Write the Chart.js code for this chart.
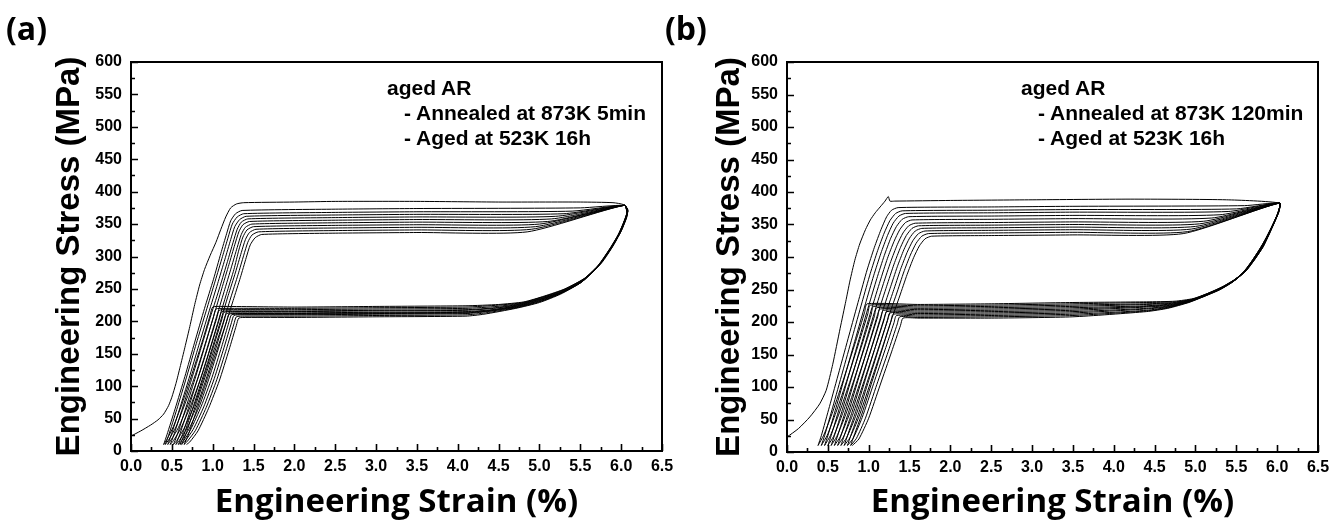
<!DOCTYPE html>
<html><head><meta charset="utf-8">
<script src="https://cdn.jsdelivr.net/npm/chart.js@4.4.1/dist/chart.umd.min.js"></script>
<style>
html,body{margin:0;padding:0;background:#fff;}
body{width:1341px;height:522px;overflow:hidden;position:relative;}
#ca{position:absolute;left:0;top:0;}
#cb{position:absolute;left:670px;top:0;}
.lab{position:absolute;font-family:"Open Sans","Noto Sans",sans-serif;font-weight:700;font-size:32px;line-height:32px;color:#000;}
.note{position:absolute;font-family:"Liberation Sans",Arial,sans-serif;font-weight:700;font-size:21px;line-height:21px;color:#000;white-space:nowrap;}
</style>
</head><body>
<canvas id="ca" width="680" height="522"></canvas>
<canvas id="cb" width="671" height="522"></canvas>
<div class="lab" style="left:6px;top:12px;">(a)</div>
<div class="lab" style="left:665px;top:12px;">(b)</div>
<div class="note" style="left:387px;top:77px;">aged AR</div>
<div class="note" style="left:404px;top:102px;">- Annealed at 873K 5min</div>
<div class="note" style="left:404px;top:127px;">- Aged at 523K 16h</div>
<div class="note" style="left:1021px;top:77px;">aged AR</div>
<div class="note" style="left:1038px;top:102px;">- Annealed at 873K 120min</div>
<div class="note" style="left:1038px;top:127px;">- Aged at 523K 16h</div>
<script>
// ---- axis ticks / titles ----
const xTickValues = [0,0.5,1,1.5,2,2.5,3,3.5,4,4.5,5,5.5,6,6.5];
const yTickValues = [0,50,100,150,200,250,300,350,400,450,500,550,600];
const xTitle = 'Engineering Strain (%)';
const yTitle = 'Engineering Stress (MPa)';

// ---- panel (a): Annealed at 873K 5min, cycles [strain %, stress MPa] ----
const a0 = [[0,23],[0.12,31],[0.24,40],[0.33,48],[0.40,57],[0.46,70],[0.50,83],[0.55,104],[0.60,129],[0.66,160],[0.72,192],[0.78,226],[0.84,256],[0.90,280],[0.97,302],[1.04,322],[1.10,342],[1.16,361],[1.22,375],[1.29,381],[1.38,383],[2.0,384],[2.5,385],[3.5,385],[4.5,384],[5.5,384],[5.9,383],[6.03,380],
 [6.08,373],[6.07,361],[6.01,342],[5.91,318],[5.76,290],[5.56,267],[5.31,250],[5.06,239],[4.81,230],[4.50,226],[4.10,224],[3.0,223],[2.0,222],[1.10,223],[1.00,222],
 [0.97,210],[0.88,172],[0.76,124],[0.64,78],[0.52,38],[0.44,18],[0.40,10]];
const a1 = [[0.40,10],[0.44,25],[0.54,65],[0.66,115],[0.78,168],[0.90,220],[1.01,265],[1.10,305],[1.17,335],[1.22,355],[1.28,366],[1.36,371],[2.5,373],[3.5,374],[5.5,375],[6.04,379],
 [6.08,372],[6.06,360],[6.00,340],[5.90,317],[5.75,290],[5.55,266],[5.30,249],[5.05,238],[4.80,229],[4.50,225],[4.10,222],[3.0,221],[2.0,220],[1.14,220],[1.04,219],
 [1.01,207],[0.92,170],[0.80,122],[0.67,76],[0.55,37],[0.46,17],[0.42,10]];
const a2 = [[0.42,10],[0.46,24],[0.56,64],[0.68,114],[0.80,166],[0.92,216],[1.03,262],[1.12,300],[1.19,330],[1.24,350],[1.30,361],[1.38,366],[2.5,368],[3.5,369],[5.4,370],[6.04,379],
 [6.08,371],[6.06,359],[6.00,339],[5.89,316],[5.74,289],[5.54,265],[5.29,248],[5.04,237],[4.79,228],[4.48,223],[4.10,220],[3.0,219],[2.0,218],[1.18,218],[1.08,217],
 [1.05,205],[0.96,168],[0.84,120],[0.71,75],[0.58,36],[0.49,17],[0.45,10]];
const a3 = [[0.45,10],[0.49,24],[0.59,63],[0.71,112],[0.83,163],[0.95,213],[1.06,258],[1.15,296],[1.22,326],[1.27,346],[1.33,357],[1.41,362],[2.5,364],[3.5,365],[5.3,366],[6.04,379],
 [6.08,371],[6.06,358],[5.99,338],[5.89,315],[5.74,288],[5.54,264],[5.29,247],[5.04,236],[4.78,227],[4.46,221],[4.10,218],[3.0,217],[2.0,216],[1.21,216],[1.11,215],
 [1.08,203],[0.99,166],[0.87,118],[0.74,73],[0.61,35],[0.52,16],[0.48,10]];
const a4 = [[0.48,10],[0.52,23],[0.62,62],[0.74,110],[0.86,160],[0.98,210],[1.09,254],[1.18,292],[1.25,322],[1.30,342],[1.35,353],[1.43,358],[2.5,360],[3.5,361],[5.2,362],[6.04,379],
 [6.08,370],[6.05,358],[5.99,337],[5.88,314],[5.73,287],[5.53,263],[5.28,246],[5.03,235],[4.77,226],[4.44,220],[4.10,217],[3.0,216],[2.0,215],[1.24,215],[1.14,214],
 [1.11,202],[1.02,165],[0.90,117],[0.78,72],[0.65,35],[0.56,16],[0.52,10]];
const a5 = [[0.52,10],[0.56,23],[0.66,62],[0.78,110],[0.90,160],[1.01,207],[1.11,250],[1.20,288],[1.27,318],[1.32,338],[1.37,349],[1.45,354],[2.5,356],[3.5,357],[5.15,358],[6.04,379],
 [6.08,370],[6.05,357],[5.98,337],[5.88,313],[5.73,286],[5.53,262],[5.28,245],[5.02,234],[4.76,225],[4.42,218],[4.10,215],[3.0,214],[2.0,213],[1.27,213],[1.17,212],
 [1.14,201],[1.05,163],[0.93,115],[0.81,71],[0.68,34],[0.59,16],[0.55,10]];
const a6 = [[0.55,10],[0.59,23],[0.69,61],[0.81,109],[0.93,158],[1.04,204],[1.14,246],[1.23,284],[1.30,314],[1.35,334],[1.40,345],[1.48,350],[2.5,352],[3.5,353],[5.1,354],[6.04,379],
 [6.08,369],[6.05,357],[5.98,336],[5.87,313],[5.72,286],[5.52,262],[5.27,245],[5.02,233],[4.75,224],[4.40,217],[4.10,214],[3.0,213],[2.0,212],[1.30,212],[1.20,211],
 [1.17,200],[1.08,162],[0.96,114],[0.84,70],[0.71,34],[0.62,16],[0.58,10]];
const a7 = [[0.58,10],[0.62,22],[0.72,60],[0.84,107],[0.96,155],[1.07,201],[1.17,243],[1.26,280],[1.32,310],[1.37,330],[1.42,341],[1.50,346],[2.5,348],[3.5,349],[5.0,350],[6.04,379],
 [6.07,369],[6.05,356],[5.98,336],[5.87,312],[5.72,285],[5.52,261],[5.27,244],[5.01,232],[4.74,223],[4.38,216],[4.10,213],[3.0,212],[2.0,211],[1.33,211],[1.23,210],
 [1.20,199],[1.11,161],[0.99,113],[0.86,69],[0.73,33],[0.64,15],[0.60,10]];
const a8 = [[0.60,10],[0.64,22],[0.74,60],[0.86,106],[0.98,153],[1.09,198],[1.19,240],[1.28,276],[1.35,306],[1.40,326],[1.45,337],[1.53,342],[2.5,344],[3.5,345],[4.95,346],[6.04,379],
 [6.07,368],[6.04,356],[5.97,335],[5.86,312],[5.71,285],[5.51,261],[5.26,243],[5.01,231],[4.73,222],[4.36,215],[4.10,212],[3.0,211],[2.0,210],[1.36,210],[1.26,209],
 [1.23,198],[1.14,160],[1.02,112],[0.89,68],[0.76,33],[0.66,15],[0.62,10]];
const a9 = [[0.62,10],[0.66,22],[0.76,59],[0.88,104],[1.00,150],[1.12,195],[1.22,236],[1.31,272],[1.38,302],[1.43,322],[1.48,333],[1.56,338],[2.5,340],[3.5,341],[4.9,342],[6.04,379],
 [6.07,368],[6.04,355],[5.97,335],[5.86,311],[5.71,284],[5.51,260],[5.26,243],[5.00,230],[4.72,221],[4.34,213],[4.10,210],[3.0,209],[2.0,208],[1.39,208],[1.29,207],
 [1.26,196],[1.17,158],[1.05,110],[0.92,67],[0.79,32],[0.69,15],[0.65,10]];
const a10 = [[0.65,10],[0.69,21],[0.79,58],[0.91,102],[1.03,148],[1.15,192],[1.25,232],[1.34,268],[1.41,298],[1.46,318],[1.52,329],[1.60,334],[2.5,336],[3.5,337],[4.85,338],[6.04,379],
 [6.07,367],[6.04,355],[5.97,334],[5.86,311],[5.71,284],[5.51,260],[5.26,242],[5.00,229],[4.71,220],[4.32,211],[4.10,208],[3.0,207],[2.0,206],[1.42,206],[1.32,205],
 [1.29,194],[1.20,156],[1.08,108],[0.95,66],[0.82,31],[0.72,14],[0.68,10]];

// ---- panel (b): Annealed at 873K 120min ----
const b0 = [[0,23],[0.14,36],[0.28,54],[0.40,74],[0.48,95],[0.56,135],[0.65,190],[0.72,232],[0.77,263],[0.83,295],[0.89,320],[0.96,342],[1.02,357],[1.08,368],[1.14,377],[1.20,386],[1.24,393],[1.26,386],[1.32,386],[2.0,387],[3.0,388],[4.2,389],[5.38,388],[6.03,383],
 [6.02,372],[5.97,355],[5.90,335],[5.83,316],[5.73,297],[5.63,281],[5.50,267],[5.34,255],[5.15,244],[4.97,236],[4.75,232],[4.40,231],[3.50,230],[2.50,228],[1.60,227],[0.98,228],
 [0.95,215],[0.84,170],[0.70,115],[0.56,62],[0.45,26],[0.38,10]];
const b1 = [[0.38,10],[0.42,25],[0.52,70],[0.64,125],[0.76,180],[0.88,235],[0.98,280],[1.07,315],[1.15,342],[1.22,362],[1.28,372],[1.36,376],[2.5,377],[3.5,378],[5.6,379],[6.03,383],
 [6.02,372],[5.97,355],[5.90,335],[5.83,316],[5.73,297],[5.63,280],[5.50,266],[5.34,254],[5.15,244],[4.97,235],[4.75,231],[4.40,230],[3.50,228],[2.50,226],[1.60,225],[1.02,226],
 [0.99,213],[0.88,168],[0.74,113],[0.60,61],[0.49,25],[0.42,10]];
const b2 = [[0.42,10],[0.46,25],[0.56,69],[0.68,123],[0.80,177],[0.92,231],[1.02,275],[1.11,310],[1.19,337],[1.26,356],[1.33,367],[1.41,371],[2.5,372],[3.5,373],[5.5,374],[6.03,383],
 [6.02,371],[5.97,354],[5.90,334],[5.82,315],[5.72,296],[5.62,280],[5.49,266],[5.33,254],[5.14,243],[4.96,235],[4.75,230],[4.40,228],[3.50,226],[2.50,224],[1.60,223],[1.06,224],
 [1.03,211],[0.92,166],[0.78,112],[0.64,60],[0.53,25],[0.46,10]];
const b3 = [[0.46,10],[0.50,25],[0.60,68],[0.72,122],[0.84,175],[0.96,228],[1.06,271],[1.15,306],[1.23,333],[1.30,352],[1.37,363],[1.45,367],[2.5,368],[3.5,369],[5.4,370],[6.03,383],
 [6.02,371],[5.97,354],[5.89,334],[5.82,315],[5.72,296],[5.62,279],[5.49,265],[5.33,253],[5.14,243],[4.96,234],[4.74,229],[4.40,227],[3.50,224],[2.50,222],[1.60,221],[1.10,222],
 [1.07,209],[0.96,165],[0.82,111],[0.68,59],[0.57,24],[0.50,10]];
const b4 = [[0.50,10],[0.54,25],[0.64,67],[0.76,120],[0.88,173],[1.00,225],[1.10,267],[1.19,302],[1.27,329],[1.34,347],[1.41,358],[1.49,362],[2.5,363],[3.5,364],[5.3,365],[6.03,383],
 [6.02,370],[5.96,353],[5.89,333],[5.81,314],[5.71,295],[5.61,279],[5.48,265],[5.32,253],[5.13,242],[4.95,234],[4.73,228],[4.40,225],[3.50,222],[2.50,220],[1.60,219],[1.14,220],
 [1.11,208],[1.00,164],[0.86,110],[0.72,58],[0.61,24],[0.54,10]];
const b5 = [[0.54,10],[0.58,25],[0.68,66],[0.80,118],[0.92,170],[1.04,222],[1.14,263],[1.23,298],[1.31,324],[1.38,342],[1.45,353],[1.53,357],[2.5,358],[3.5,359],[5.2,360],[6.03,383],
 [6.02,370],[5.96,353],[5.89,333],[5.81,314],[5.71,295],[5.61,278],[5.48,264],[5.32,252],[5.13,242],[4.95,233],[4.72,227],[4.40,224],[3.50,220],[2.50,218],[1.60,217],[1.18,218],
 [1.15,206],[1.04,162],[0.90,109],[0.76,57],[0.65,23],[0.58,10]];
const b6 = [[0.58,10],[0.62,25],[0.72,65],[0.84,117],[0.96,168],[1.08,219],[1.18,259],[1.27,293],[1.35,319],[1.42,337],[1.49,348],[1.57,352],[2.5,353],[3.5,354],[5.1,355],[6.03,383],
 [6.02,369],[5.96,352],[5.88,332],[5.80,313],[5.70,294],[5.60,278],[5.47,264],[5.31,252],[5.12,241],[4.94,233],[4.71,226],[4.40,223],[3.50,218],[2.50,216],[1.60,215],[1.22,216],
 [1.19,204],[1.08,161],[0.94,108],[0.80,56],[0.69,23],[0.62,10]];
const b7 = [[0.62,10],[0.66,25],[0.76,64],[0.88,115],[1.00,165],[1.12,216],[1.22,255],[1.31,289],[1.39,315],[1.46,333],[1.53,344],[1.61,348],[2.5,349],[3.5,350],[5.05,351],[6.03,383],
 [6.02,369],[5.96,352],[5.88,332],[5.80,313],[5.70,294],[5.60,277],[5.47,263],[5.31,251],[5.12,241],[4.94,232],[4.70,225],[4.40,221],[3.50,216],[2.50,214],[1.60,213],[1.26,214],
 [1.23,202],[1.12,160],[0.98,107],[0.84,55],[0.73,22],[0.66,10]];
const b8 = [[0.66,10],[0.70,25],[0.80,63],[0.92,113],[1.04,163],[1.16,213],[1.26,251],[1.35,285],[1.43,311],[1.50,329],[1.57,340],[1.65,344],[2.5,345],[3.5,346],[5.0,347],[6.03,383],
 [6.01,368],[5.95,351],[5.88,331],[5.79,312],[5.69,293],[5.59,277],[5.46,263],[5.30,251],[5.11,240],[4.93,232],[4.69,224],[4.40,220],[3.50,214],[2.50,212],[1.60,211],[1.30,212],
 [1.27,200],[1.16,158],[1.02,106],[0.88,54],[0.77,22],[0.70,10]];
const b9 = [[0.70,10],[0.74,25],[0.84,62],[0.96,112],[1.08,161],[1.20,210],[1.30,247],[1.39,281],[1.47,307],[1.54,325],[1.61,336],[1.69,340],[2.5,341],[3.5,342],[4.95,343],[6.03,383],
 [6.01,368],[5.95,351],[5.87,331],[5.79,312],[5.69,293],[5.59,276],[5.46,262],[5.30,250],[5.11,240],[4.93,231],[4.68,223],[4.40,218],[3.50,212],[2.50,210],[1.60,209],[1.34,210],
 [1.31,199],[1.20,157],[1.06,105],[0.92,53],[0.81,21],[0.74,10]];
const b10 = [[0.74,10],[0.78,25],[0.88,61],[1.00,110],[1.12,158],[1.24,207],[1.34,243],[1.43,277],[1.51,303],[1.58,321],[1.65,332],[1.73,336],[2.5,337],[3.5,338],[4.9,339],[6.03,383],
 [6.01,367],[5.95,350],[5.87,330],[5.78,311],[5.68,292],[5.58,276],[5.45,262],[5.29,250],[5.10,239],[4.92,231],[4.67,222],[4.40,217],[3.50,210],[2.50,208],[1.60,207],[1.38,208],
 [1.35,197],[1.24,155],[1.10,104],[0.96,52],[0.85,21],[0.78,10]];
const b11 = [[0.78,10],[0.82,25],[0.92,60],[1.04,108],[1.16,156],[1.28,204],[1.38,240],[1.47,273],[1.55,299],[1.62,317],[1.69,328],[1.77,332],[2.5,333],[3.5,334],[4.85,336],[6.03,383],
 [6.01,367],[5.95,350],[5.87,330],[5.78,311],[5.68,292],[5.58,275],[5.45,261],[5.29,249],[5.10,239],[4.92,230],[4.66,221],[4.40,216],[3.50,208],[2.50,206],[1.60,206],[1.42,206],
 [1.39,195],[1.28,154],[1.14,103],[1.00,52],[0.88,20],[0.80,10]];

const cyclesA = [a0,a1,a2,a3,a4,a5,a6,a7,a8,a9,a10];
const cyclesB = [b0,b1,b2,b3,b4,b5,b6,b7,b8,b9,b10,b11];

// ---- frame with inward ticks (drawn from the library scales) ----
const frameTicks = {
  id: 'frameTicks',
  afterDraw(chart) {
    const {ctx, chartArea: a, scales: {x, y}} = chart;
    ctx.save();
    ctx.strokeStyle = '#000';
    ctx.lineWidth = 1.6;
    ctx.beginPath();
    xTickValues.forEach((v, i) => {
      const px = Math.round(x.getPixelForValue(v)) + 0.5;
      ctx.moveTo(px, a.bottom); ctx.lineTo(px, a.bottom - 7);
      if (i < xTickValues.length - 1) {
        const pm = Math.round(x.getPixelForValue((v + xTickValues[i + 1]) / 2)) + 0.5;
        ctx.moveTo(pm, a.bottom); ctx.lineTo(pm, a.bottom - 4);
      }
    });
    yTickValues.forEach((v, i) => {
      const py = Math.round(y.getPixelForValue(v)) + 0.5;
      ctx.moveTo(a.left, py); ctx.lineTo(a.left + 7, py);
      if (i < yTickValues.length - 1) {
        const pm = Math.round(y.getPixelForValue((v + yTickValues[i + 1]) / 2)) + 0.5;
        ctx.moveTo(a.left, pm); ctx.lineTo(a.left + 4, pm);
      }
    });
    ctx.stroke();
    ctx.lineWidth = 2;
    ctx.strokeRect(a.left, a.top, a.right - a.left, a.bottom - a.top);
    ctx.restore();
  }
};

function build(id, cycles, g) {
  return new Chart(document.getElementById(id), {
    type: 'scatter',
    data: {
      datasets: cycles.map(c => ({
        data: c.map(p => ({x: p[0], y: p[1]})),
        showLine: true, borderColor: '#000', borderWidth: 1,
        pointRadius: 0, tension: 0.2, fill: false
      }))
    },
    options: {
      responsive: false, animation: false, devicePixelRatio: 1, events: [],
      layout: {padding: {top: g.top, right: g.right, left: 0, bottom: 0}},
      plugins: {legend: {display: false}, tooltip: {enabled: false}},
      scales: {
        x: {
          type: 'linear', min: 0, max: 6.5,
          afterBuildTicks: s => { s.ticks = xTickValues.map(v => ({value: v})); },
          afterFit: s => { s.height = g.xh; s.paddingLeft = 0; s.paddingRight = 0; },
          grid: {display: false, drawTicks: false}, border: {display: false},
          ticks: {padding: 6, color: '#000', autoSkip: false, maxRotation: 0,
                  font: {family: 'Liberation Sans', weight: 'bold', size: 16},
                  callback: v => Number(v).toFixed(1)},
          title: {display: true, text: xTitle, color: '#000',
                  font: {family: 'Open Sans', weight: 'bold', size: 33, lineHeight: 1.2},
                  padding: {top: 0, bottom: 0}}
        },
        y: {
          type: 'linear', min: 0, max: 600,
          afterBuildTicks: s => { s.ticks = yTickValues.map(v => ({value: v})); },
          afterFit: s => { s.width = g.yw; s.paddingTop = 0; s.paddingBottom = 0; },
          grid: {display: false, drawTicks: false}, border: {display: false},
          ticks: {padding: 9, color: '#000', autoSkip: false,
                  font: {family: 'Liberation Sans', weight: 'bold', size: 16},
                  callback: v => String(v)},
          title: {display: true, text: yTitle, color: '#000',
                  font: {family: 'Liberation Sans', weight: 'bold', size: 33, lineHeight: 1.2},
                  padding: {top: g.ytp, bottom: 0}}
        }
      }
    },
    plugins: [frameTicks]
  });
}

build('ca', cyclesA, {top: 62, right: 18, xh: 71, yw: 131, ytp: 50});
build('cb', cyclesB, {top: 62, right: 23, xh: 70, yw: 117, ytp: 40});
</script>
</body></html>
